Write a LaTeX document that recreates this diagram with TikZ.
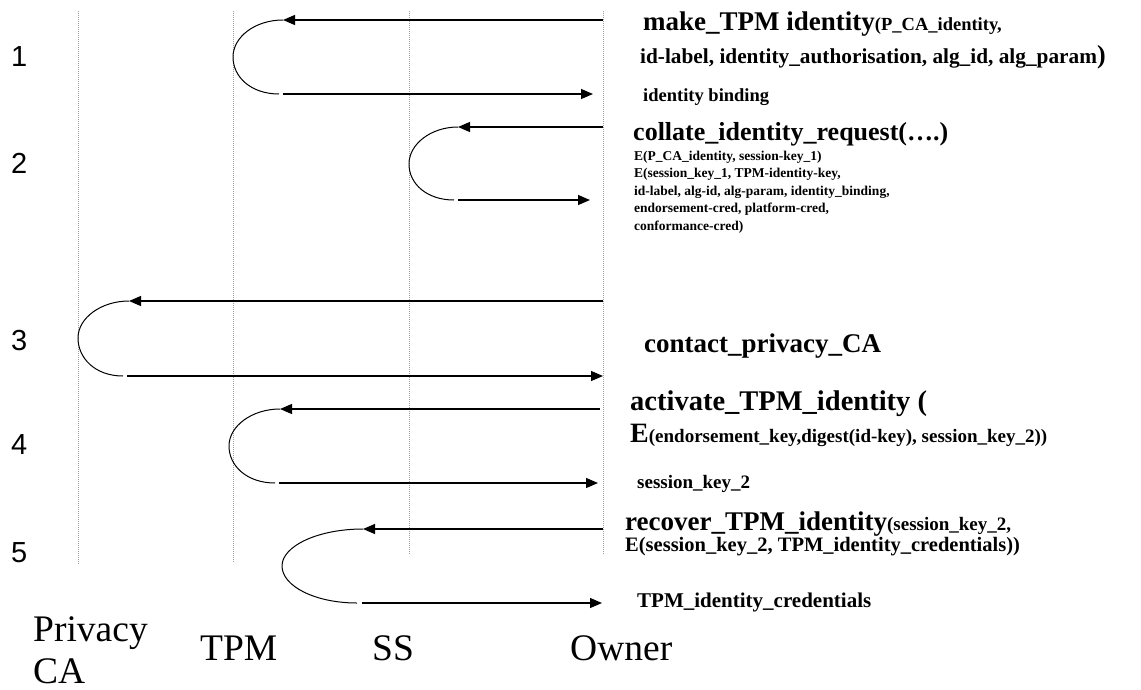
\documentclass[tikz,border=0pt]{standalone}
\usepackage{fontspec}
\setmainfont{Liberation Serif}
\newfontfamily\numfont{Liberation Sans}
\usetikzlibrary{arrows.meta}
\newcommand{\fs}[1]{\fontsize{#1}{#1}\selectfont}

\tikzset{
  lifeline/.style={draw=gray!75, line width=0.9pt, dash pattern=on 1pt off 1pt},
  msg/.style={draw=black, line width=1.2pt, -{Triangle[length=12pt,width=10pt]}},
  turn/.style={draw=black, line width=1pt},
  lbl/.style={anchor=base west, inner sep=0pt, font=\bfseries},
  stepno/.style={anchor=base west, inner sep=0pt, font=\numfont\fs{29}},
  actor/.style={anchor=base west, inner sep=0pt, font=\fs{37.5}},
}

\begin{document}
\begin{tikzpicture}[x=1pt,y=-1pt]
\useasboundingbox (0,0) rectangle (1141,689);

% lifelines
\coordinate (caT) at (78,11);   \coordinate (caB) at (78,565);
\coordinate (tpmT) at (233,11); \coordinate (tpmB) at (233,563);
\coordinate (ssT) at (409,11);  \coordinate (ssB) at (409,555);
\coordinate (owT) at (603,11);  \coordinate (owB) at (603,555);
\draw[lifeline] (caT) -- (caB);
\draw[lifeline] (tpmT) -- (tpmB);
\draw[lifeline] (ssT) -- (ssB);
\draw[lifeline] (owT) -- (owB);

% step numbers
\node[stepno] (n1) at (11,66) {1};
\node[stepno] (n2) at (11,173) {2};
\node[stepno] (n3) at (11,350) {3};
\node[stepno] (n4) at (11,454) {4};
\node[stepno] (n5) at (11,562) {5};

% message 1
\coordinate (m1s) at (603,20);  \coordinate (m1t) at (283,20);
\coordinate (m1l) at (233,57);  \coordinate (m1e) at (279,94);
\coordinate (m1b) at (283,94);  \coordinate (m1f) at (593,94);
\draw[msg] (m1s) -- (m1t);
\draw[turn] (m1t) .. controls +(-28,0) and +(0,-20) .. (m1l) .. controls +(0,20) and +(-28,0) .. (m1e);
\draw[msg] (m1b) -- (m1f);

% message 2
\coordinate (m2s) at (603,127); \coordinate (m2t) at (458,127);
\coordinate (m2l) at (409,164); \coordinate (m2e) at (454,200);
\coordinate (m2b) at (458,200); \coordinate (m2f) at (590,200);
\draw[msg] (m2s) -- (m2t);
\draw[turn] (m2t) .. controls +(-27,0) and +(0,-20) .. (m2l) .. controls +(0,20) and +(-27,0) .. (m2e);
\draw[msg] (m2b) -- (m2f);

% message 3
\coordinate (m3s) at (603,301); \coordinate (m3t) at (129,301);
\coordinate (m3l) at (78,338);  \coordinate (m3e) at (123,376);
\coordinate (m3b) at (127,376); \coordinate (m3f) at (603,376);
\draw[msg] (m3s) -- (m3t);
\draw[turn] (m3t) .. controls +(-28,0) and +(0,-20) .. (m3l) .. controls +(0,20) and +(-28,0) .. (m3e);
\draw[msg] (m3b) -- (m3f);

% message 4
\coordinate (m4s) at (600,409); \coordinate (m4t) at (280,409);
\coordinate (m4l) at (229,446); \coordinate (m4e) at (275,483);
\coordinate (m4b) at (279,483); \coordinate (m4f) at (598,483);
\draw[msg] (m4s) -- (m4t);
\draw[turn] (m4t) .. controls +(-28,0) and +(0,-20) .. (m4l) .. controls +(0,20) and +(-28,0) .. (m4e);
\draw[msg] (m4b) -- (m4f);

% message 5
\coordinate (m5s) at (603,529); \coordinate (m5t) at (363,529);
\coordinate (m5l) at (282,566); \coordinate (m5e) at (357,603);
\coordinate (m5b) at (362,603); \coordinate (m5f) at (602,603);
\draw[msg] (m5s) -- (m5t);
\draw[turn] (m5t) .. controls +(-45,0) and +(0,-20) .. (m5l) .. controls +(0,20) and +(-42,0) .. (m5e);
\draw[msg] (m5b) -- (m5f);

% labels
\node[lbl] (t1a) at (643,30) {\fs{27}make\_TPM identity{\fs{18.5}(P\_CA\_identity,}};
\node[lbl] (t1b) at (640,63) {\fs{21.3}id-label, identity\_authorisation, alg\_id, alg\_param{\fs{26})}};
\node[lbl] (t1c) at (643,101) {\fs{18.5}identity binding};

\node[lbl] (t2a) at (633,140) {\fs{26}collate\_identity\_request(….)};
\node[lbl] (t2b) at (634,160) {\fs{13.5}E(P\_CA\_identity, session-key\_1)};
\node[lbl] (t2c) at (634,177.5) {\fs{13.5}E(session\_key\_1, TPM-identity-key,};
\node[lbl] (t2d) at (634,195) {\fs{13.5}id-label, alg-id, alg-param, identity\_binding,};
\node[lbl] (t2e) at (634,212.5) {\fs{13.5}endorsement-cred, platform-cred,};
\node[lbl] (t2f) at (634,230) {\fs{13.5}conformance-cred)};

\node[lbl] (t3) at (644,352) {\fs{27}contact\_privacy\_CA};

\node[lbl] (t4a) at (630,410) {\fs{28.5}activate\_TPM\_identity (};
\node[lbl] (t4b) at (630,442) {\fs{28}E{\fs{19}(endorsement\_key,digest(id-key), session\_key\_2))}};
\node[lbl] (t4c) at (637,488) {\fs{19}session\_key\_2};

\node[lbl] (t5a) at (625,530) {\fs{27}recover\_TPM\_identity{\fs{19}(session\_key\_2,}};
\node[lbl] (t5b) at (625,551) {\fs{20.5}E(session\_key\_2, TPM\_identity\_credentials))};
\node[lbl] (t5c) at (637,607) {\fs{21}TPM\_identity\_credentials};

% participants
\node[actor] (pca1) at (33,641) {Privacy};
\node[actor] (pca2) at (33,683) {CA};
\node[actor] (ptpm) at (200,660) {TPM};
\node[actor] (pss) at (372,660) {SS};
\node[actor] (pown) at (570,660) {Owner};
\end{tikzpicture}
\end{document}
